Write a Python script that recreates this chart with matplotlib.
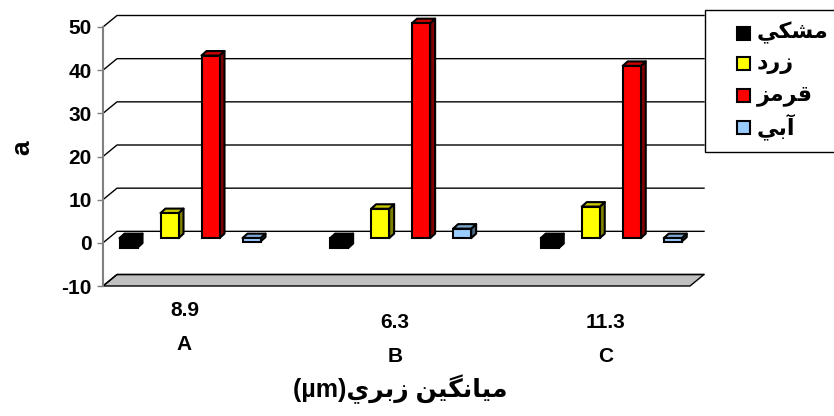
import matplotlib
matplotlib.use('Agg')
import matplotlib.pyplot as plt
from matplotlib.patches import Polygon, Rectangle

# داده ها
categories = ['A', 'B', 'C']
roughness = ['8.9', '6.3', '11.3']
series_names = ['مشكي', 'زرد', 'قرمز', 'آبي']
black = [-2.2, -2.3, -2.3]
yellow = [5.8, 6.8, 7.3]
red = [42.3, 49.8, 39.9]
blue = [-0.8, 2.2, -0.8]
yticks = [-10, 0, 10, 20, 30, 40, 50]
x_title = 'ميانگين زبري'
y_title = 'a'

values = [black, yellow, red, blue]
face_cols = ['#000000', '#FFFF00', '#FF0000', '#99CCFF']
top_cols = ['#000000', '#C8C800', '#CC0000', '#7DA6CF']
side_cols = ['#000000', '#808000', '#800000', '#4C6680']

# حروف عربي به صورت شكل هاي جدا (matplotlib شكل دهي ندارد)
FORMS = {
    'ا': ('\uFE8D', '\uFE8E', None, None),
    'آ': ('\uFE81', '\uFE82', None, None),
    'ب': ('\uFE8F', '\uFE90', '\uFE91', '\uFE92'),
    'د': ('\uFEA9', '\uFEAA', None, None),
    'ر': ('\uFEAD', '\uFEAE', None, None),
    'ز': ('\uFEAF', '\uFEB0', None, None),
    'ش': ('\uFEB5', '\uFEB6', '\uFEB7', '\uFEB8'),
    'ق': ('\uFED5', '\uFED6', '\uFED7', '\uFED8'),
    'ك': ('\uFED9', '\uFEDA', '\uFEDB', '\uFEDC'),
    'م': ('\uFEE1', '\uFEE2', '\uFEE3', '\uFEE4'),
    'ن': ('\uFEE5', '\uFEE6', '\uFEE7', '\uFEE8'),
    'ي': ('\uFEF1', '\uFEF2', '\uFEF3', '\uFEF4'),
    'گ': ('\uFB92', '\uFB93', '\uFB94', '\uFB95'),
}


def rtl(s):
    out = []
    for i, ch in enumerate(s):
        f = FORMS.get(ch)
        if f is None:
            out.append(ch)
            continue
        prev = s[i - 1] if i > 0 else ''
        nxt = s[i + 1] if i + 1 < len(s) else ''
        jp = prev in FORMS and FORMS[prev][2] is not None
        jn = f[2] is not None and nxt in FORMS
        if jp and jn:
            g = f[3]
        elif jp:
            g = f[1]
        elif jn:
            g = f[2]
        else:
            g = f[0]
        out.append(g)
    return ''.join(reversed(out))


FONT = ['Liberation Sans', 'DejaVu Sans']
plt.rcParams['font.family'] = FONT
plt.rcParams['font.weight'] = 'bold'
plt.rcParams['axes.unicode_minus'] = False

W, H = 834, 416
fig = plt.figure(figsize=(W / 100, H / 100), dpi=100)
x0, x1 = -0.387, 2.40
ax = fig.add_axes([103 / W, 1 - 286 / H, (690 - 103) / W, (286 - 27) / H])
ax.set_xlim(x0, x1)
ax.set_ylim(yticks[0], yticks[-1])
ax.patch.set_visible(False)
for s in ['top', 'right', 'bottom']:
    ax.spines[s].set_visible(False)
ax.spines['left'].set_color('#808080')
ax.spines['left'].set_linewidth(1.5)
ax.set_xticks([])
ax.set_yticks(yticks)
ax.tick_params(axis='y', length=4, width=1, color='#808080', pad=4, labelsize=15)
for lab in ax.get_yticklabels():
    lab.set_fontweight('bold')

# عمق سه بعدي (واحد داده)
px_x = (690 - 103) / (x1 - x0)
px_y = (286 - 27) / (yticks[-1] - yticks[0])
wdx, wdy = 14 / px_x, 11.5 / px_y
sdx, sdy = 5.5 / px_x, 4.7 / px_y
bdx, bdy = 5 / px_x, 4.5 / px_y
bw = 18 / px_x
step = 41 / px_x

# کف
ymin = yticks[0]
ax.add_patch(Polygon([(x0, ymin), (x1, ymin), (x1 + wdx, ymin + wdy), (x0 + wdx, ymin + wdy)],
                     closed=True, facecolor='#C0C0C0', edgecolor='black', lw=1, clip_on=False, zorder=1))
# خطوط شبكه روي ديوار
for v in yticks:
    ax.plot([x0, x0 + wdx, x1 + wdx], [v, v + wdy, v + wdy], color='black', lw=1,
            clip_on=False, zorder=1.5)

# ميله ها
for g in range(len(categories)):
    for j, vals in enumerate(values):
        v = vals[g]
        L = g + (j - 1.5) * step - bw / 2 + sdx
        R = L + bw
        bot = sdy + min(0, v)
        top = sdy + max(0, v)
        kw = dict(closed=True, edgecolor='black', lw=1.5, joinstyle='round', clip_on=False, zorder=3)
        ax.add_patch(Polygon([(R, bot), (R + bdx, bot + bdy), (R + bdx, top + bdy), (R, top)],
                             facecolor=side_cols[j], **kw))
        ax.add_patch(Polygon([(L, top), (R, top), (R + bdx, top + bdy), (L + bdx, top + bdy)],
                             facecolor=top_cols[j], **kw))
        ax.add_patch(Rectangle((L, bot), bw, top - bot, facecolor=face_cols[j],
                               edgecolor='black', lw=1.5, clip_on=False, zorder=3))

# برچسب گروه ها
label_y = [(310, 345), (322, 356), (322, 356)]
for g in range(len(categories)):
    xf = ax.transData.transform((g, 0))[0] / W
    fig.text(xf, 1 - label_y[g][0] / H, roughness[g], ha='center', va='center', fontsize=15, fontweight='bold')
    fig.text(xf, 1 - label_y[g][1] / H, categories[g], ha='center', va='center', fontsize=15, fontweight='bold')

fig.text(400 / W, 1 - 389 / H, '(µm)' + rtl(x_title), ha='center', va='center', fontsize=18,
         fontweight='bold', family=FONT)
fig.text(22 / W, 1 - 148 / H, y_title, rotation=90, ha='center', va='center', fontsize=19, fontweight='bold')

# راهنما
fig.patches.append(Rectangle((705 / W, 1 - 152 / H), 140 / W, 142 / H, transform=fig.transFigure,
                             facecolor='white', edgecolor='black', lw=1, zorder=5))
leg_y = [33, 63, 95, 127]
for j, name in enumerate(series_names):
    fig.patches.append(Rectangle((737 / W, 1 - (leg_y[j] + 7) / H), 13 / W, 13 / H, transform=fig.transFigure,
                                 facecolor=face_cols[j], edgecolor='black', lw=1.5, zorder=6))
    fig.text(757 / W, 1 - leg_y[j] / H, rtl(name), ha='left', va='center', fontsize=16,
             fontweight='bold', family=FONT, zorder=7)

fig.savefig('out.png', dpi=100)
